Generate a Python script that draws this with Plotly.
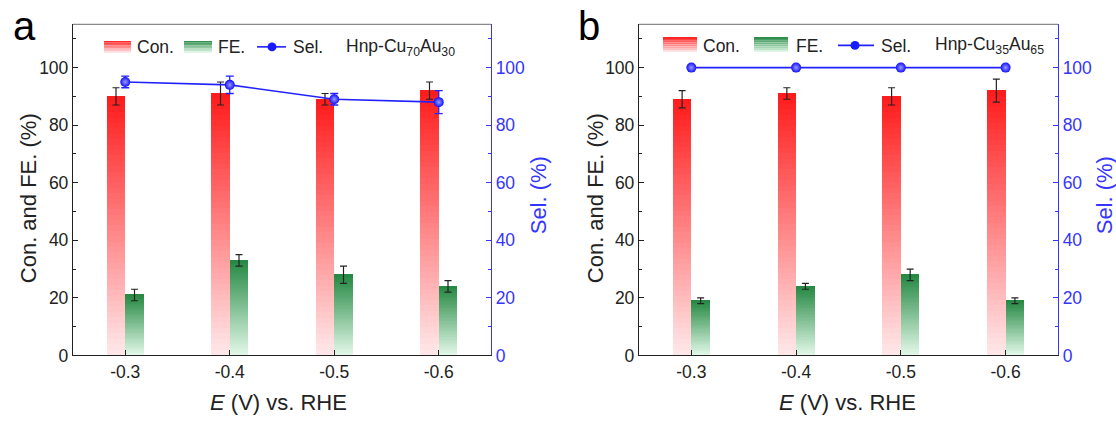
import plotly.graph_objects as go

# ---------------- data ----------------
potentials = ["-0.3", "-0.4", "-0.5", "-0.6"]

con_a = [90, 91, 89, 92]
con_a_err = [3, 4, 2, 3]
fe_a = [21, 33, 28, 24]
fe_a_err = [2, 2, 3, 2]
sel_a = [95, 94, 89, 88]
sel_a_err = [2, 3, 2, 4]

con_b = [89, 91, 90, 92]
con_b_err = [3, 2, 3, 4]
fe_b = [19, 24, 28, 19]
fe_b_err = [1, 1, 2, 1]
sel_b = [100, 100, 100, 100]

# ---------------- style ----------------
W, H = 1116, 425
FONT = "Liberation Sans, Arial, sans-serif"
BLUE = "#2222ff"
AXBLUE = "#3535ff"
DARK = "#222222"
RED_TOP, RED_BOT = (255, 26, 26), (255, 233, 235)
GRN_TOP, GRN_BOT = (36, 136, 66), (228, 249, 234)
NSEG = 48
BW = 0.177


def mix(c_top, c_bot, t):
    # t = 0 bottom, 1 top
    r = [round(c_bot[i] + (c_top[i] - c_bot[i]) * t) for i in range(3)]
    return f"rgb({r[0]},{r[1]},{r[2]})"


def px(x):
    return x / W


def py(y):
    return 1 - y / H


def gradient_bar(values, shift, ctop, cbot, xa, ya):
    xs, bases, ys, cols = [], [], [], []
    for i, v in enumerate(values):
        for k in range(NSEG):
            xs.append(i + shift)
            bases.append(v * k / NSEG)
            ys.append(v / NSEG)
            cols.append(mix(ctop, cbot, (k + 0.5) / NSEG))
    return go.Bar(x=xs, y=ys, base=bases, width=BW, xaxis=xa, yaxis=ya,
                  marker=dict(color=cols, line=dict(width=0)),
                  showlegend=False, hoverinfo="skip")


def err_trace(values, errs, shift, xa, ya):
    return go.Scatter(x=[i + shift for i in range(len(values))], y=values,
                      mode="markers", xaxis=xa, yaxis=ya,
                      marker=dict(size=1, color="rgba(0,0,0,0)"),
                      error_y=dict(type="data", array=errs, color=DARK,
                                   thickness=1.2, width=3.5),
                      showlegend=False, hoverinfo="skip")


def sel_trace(values, errs, xa, ya):
    kw = {}
    if errs is not None:
        kw["error_y"] = dict(type="data", array=errs, color=BLUE,
                             thickness=1.3, width=4)
    return go.Scatter(x=list(range(len(values))), y=values,
                      mode="lines+markers", xaxis=xa, yaxis=ya,
                      line=dict(color=BLUE, width=1.6),
                      marker=dict(size=10, color="#1010ff",
                                  gradient=dict(type="radial", color="#9a9aff"),
                                  line=dict(width=0)),
                      showlegend=False, hoverinfo="skip", **kw)


fig = go.Figure()
panels = [
    dict(con=con_a, cerr=con_a_err, fe=fe_a, ferr=fe_a_err, sel=sel_a, serr=sel_a_err,
         xa="x", ya="y", ya2="y2"),
    dict(con=con_b, cerr=con_b_err, fe=fe_b, ferr=fe_b_err, sel=sel_b, serr=None,
         xa="x2", ya="y3", ya2="y4"),
]
for p in panels:
    fig.add_trace(gradient_bar(p["con"], -BW / 2, RED_TOP, RED_BOT, p["xa"], p["ya"]))
    fig.add_trace(gradient_bar(p["fe"], BW / 2, GRN_TOP, GRN_BOT, p["xa"], p["ya"]))
    fig.add_trace(err_trace(p["con"], p["cerr"], -BW / 2, p["xa"], p["ya"]))
    fig.add_trace(err_trace(p["fe"], p["ferr"], BW / 2, p["xa"], p["ya"]))
    fig.add_trace(sel_trace(p["sel"], p["serr"], p["xa"], p["ya2"]))

ydom = [py(364), py(25)]
xdom_a = [px(73), px(491)]
xdom_b = [px(639), px(1058)]

tickfont = dict(family=FONT, size=17.5, color=DARK)
bluefont = dict(family=FONT, size=17.5, color=AXBLUE)


def xaxis(dom, anchor):
    return dict(domain=dom, anchor=anchor, range=[-0.5, 3.5],
                tickmode="array", tickvals=[0, 1, 2, 3], ticktext=potentials,
                ticks="inside", ticklen=5, tickwidth=1.2, tickcolor=DARK,
                showline=True, linecolor=DARK, linewidth=1.3,
                showgrid=False, zeroline=False, tickfont=tickfont)


def yleft(anchor):
    return dict(domain=ydom, anchor=anchor, range=[0, 115], tick0=0, dtick=20,
                ticks="inside", ticklen=5, tickwidth=1.2, tickcolor=DARK,
                minor=dict(ticks="inside", ticklen=3, dtick=10, tickcolor=DARK, tickwidth=1),
                showline=True, linecolor=DARK, linewidth=1.3,
                showgrid=False, zeroline=False, tickfont=tickfont)


def yright(anchor, over):
    return dict(overlaying=over, side="right", anchor=anchor, range=[0, 115],
                tick0=0, dtick=20,
                ticks="inside", ticklen=5, tickwidth=1.2, tickcolor=AXBLUE,
                minor=dict(ticks="inside", ticklen=3, dtick=10, tickcolor=AXBLUE, tickwidth=1),
                showline=True, linecolor=AXBLUE, linewidth=1.3,
                showgrid=False, zeroline=False, tickfont=bluefont)


shapes = []
# top frame lines (grey)
for xd, yd in [("x domain", "y domain"), ("x2 domain", "y3 domain")]:
    shapes.append(dict(type="line", xref=xd, yref=yd, x0=0, x1=1, y0=1, y1=1,
                       line=dict(color="#8a8a8a", width=1.3), layer="above"))


def swatch(x0, x1, y0, y1, ctop, cbot, n=8):
    h = (y1 - y0) / n
    for k in range(n):
        t = 1 - (k + 0.5) / n
        shapes.append(dict(type="rect", xref="paper", yref="paper",
                           x0=px(x0), x1=px(x1), y0=py(y0 + k * h), y1=py(y0 + (k + 1) * h),
                           fillcolor=mix(ctop, cbot, t), line=dict(width=0)))


annotations = []


def text(x, y, s, size=17.5, color=DARK, xanchor="left", angle=0):
    annotations.append(dict(x=px(x), y=py(y), xref="paper", yref="paper", text=s,
                            showarrow=False, xanchor=xanchor, yanchor="middle",
                            textangle=angle, font=dict(family=FONT, size=size, color=color)))


# legend panel a
swatch(104, 131, 42, 54, RED_TOP, RED_BOT)
swatch(184, 212, 42, 54, GRN_TOP, GRN_BOT)
shapes.append(dict(type="line", xref="paper", yref="paper", x0=px(257), x1=px(286),
                   y0=py(48), y1=py(48), line=dict(color=BLUE, width=1.6)))
shapes.append(dict(type="circle", xref="paper", yref="paper", x0=px(267.5), x1=px(276.5),
                   y0=py(43.5), y1=py(52.5), fillcolor="#1a1aff", line=dict(width=0)))
text(135, 48.5, "Con.")
text(216, 48.5, "FE.")
text(291, 48.5, "Sel.")
text(344, 48.5, "Hnp-Cu<sub>70</sub>Au<sub>30</sub>")

# legend panel b
swatch(663, 697, 38, 53, RED_TOP, RED_BOT)
swatch(754, 788, 38, 53, GRN_TOP, GRN_BOT)
shapes.append(dict(type="line", xref="paper", yref="paper", x0=px(838), x1=px(874),
                   y0=py(46.5), y1=py(46.5), line=dict(color=BLUE, width=1.6)))
shapes.append(dict(type="circle", xref="paper", yref="paper", x0=px(850.5), x1=px(859.5),
                   y0=py(42), y1=py(51), fillcolor="#1a1aff", line=dict(width=0)))
text(701, 47, "Con.")
text(794, 47, "FE.")
text(879, 47, "Sel.")
text(933, 47, "Hnp-Cu<sub>35</sub>Au<sub>65</sub>")

# axis titles
text(28, 203, "Con. and FE. (%)", size=22, xanchor="center", angle=-90)
text(538, 200, "Sel. (%)", size=22, color=AXBLUE, xanchor="center", angle=-90)
text(278, 412, "<i>E</i> (V) vs. RHE", size=22, xanchor="center")
text(595, 203, "Con. and FE. (%)", size=22, xanchor="center", angle=-90)
text(1104, 200, "Sel. (%)", size=22, color=AXBLUE, xanchor="center", angle=-90)
text(847, 412, "<i>E</i> (V) vs. RHE", size=22, xanchor="center")

# panel labels
text(24, 27, "a", size=40, color="#000000", xanchor="center")
text(589, 27, "b", size=40, color="#000000", xanchor="center")

fig.update_layout(
    width=W, height=H,
    margin=dict(l=0, r=0, t=0, b=0),
    paper_bgcolor="white", plot_bgcolor="white",
    barmode="overlay", bargap=0,
    showlegend=False,
    font=dict(family=FONT, color=DARK),
    xaxis=xaxis(xdom_a, "y"),
    yaxis=yleft("x"),
    yaxis2=yright("x", "y"),
    xaxis2=xaxis(xdom_b, "y3"),
    yaxis3=yleft("x2"),
    yaxis4=yright("x2", "y3"),
    shapes=shapes,
    annotations=annotations,
)

fig.write_html("out.html")
